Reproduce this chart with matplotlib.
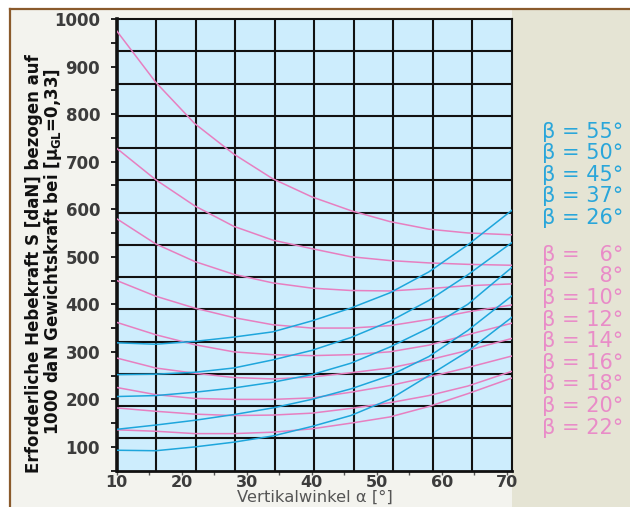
import numpy as np
import matplotlib
matplotlib.use("Agg")
import matplotlib.pyplot as plt
from matplotlib.patches import Rectangle
from matplotlib.lines import Line2D

# ---------------- data ----------------
alpha = [10, 16, 22, 28, 34, 40, 46, 52, 58, 64, 71]

# pink curves (beta = 6 ... 22)
pink_betas = [6, 8, 10, 12, 14, 16, 18, 20, 22]
pink_b6 = [975, 867, 780, 716, 664, 626, 597, 574, 558, 550, 546]
pink_b8 = [728, 662, 607, 564, 535, 517, 500, 492, 487, 484, 482]
pink_b10 = [580, 527, 490, 463, 445, 434, 429, 428, 433, 439, 443]
pink_b12 = [450, 417, 392, 372, 357, 350, 350, 355, 368, 384, 399]
pink_b14 = [362, 336, 315, 300, 294, 292, 294, 300, 314, 336, 361]
pink_b16 = [287, 266, 255, 246, 243, 247, 256, 266, 283, 303, 329]
pink_b18 = [225, 210, 202, 200, 200, 203, 215, 229, 247, 267, 292]
pink_b20 = [182, 175, 169, 166, 167, 171, 181, 193, 208, 228, 260]
pink_b22 = [136, 133, 128, 128, 131, 138, 150, 163, 185, 212, 246]

# blue curves (beta = 55 ... 26)
blue_betas = [55, 50, 45, 37, 26]
blue_b55 = [319, 316, 322, 331, 342, 365, 392, 424, 468, 525, 600]
blue_b50 = [252, 253, 257, 266, 283, 303, 330, 364, 408, 462, 532]
blue_b45 = [206, 208, 215, 224, 236, 252, 276, 310, 350, 400, 480]
blue_b37 = [137, 146, 156, 168, 182, 200, 222, 250, 290, 345, 420]
blue_b26 = [93, 92, 100, 110, 123, 143, 166, 200, 250, 301, 375]

pink_series = [pink_b6, pink_b8, pink_b10, pink_b12, pink_b14,
               pink_b16, pink_b18, pink_b20, pink_b22]
blue_series = [blue_b55, blue_b50, blue_b45, blue_b37, blue_b26]

x_ticks = [10, 20, 30, 40, 50, 60, 70]
y_ticks = [100, 200, 300, 400, 500, 600, 700, 800, 900, 1000]

ylabel1 = "Erforderliche Hebekraft S [daN] bezogen auf"
ylabel2 = r"1000 daN Gewichtskraft bei [$\mu_{\mathrm{GL}}$=0,33]"
xlabel = "Vertikalwinkel α [°]"

# ---------------- style ----------------
W, H = 630, 507
PINK = "#e77fc0"
BLUE = "#1ea6dc"
PINK_T = "#e98cc8"
BLUE_T = "#2aa6da"

plt.rcParams["mathtext.fontset"] = "custom"
plt.rcParams["mathtext.rm"] = "DejaVu Sans:bold"
plt.rcParams["mathtext.it"] = "DejaVu Sans:bold"
plt.rcParams["mathtext.bf"] = "DejaVu Sans:bold"

fig = plt.figure(figsize=(W / 100, H / 100), dpi=100, facecolor="white")

def fx(px):
    return px / W

def fy(py):
    return 1 - py / H

# background panels
fig.patches.append(Rectangle((fx(10), 0), fx(620), fy(9), transform=fig.transFigure,
                             facecolor="#f3f3ee", edgecolor="none", zorder=-5))
fig.patches.append(Rectangle((fx(512), 0), fx(118), fy(9), transform=fig.transFigure,
                             facecolor="#e5e4d4", edgecolor="none", zorder=-4))
fig.lines.append(Line2D([fx(10), fx(10)], [0, fy(9)], transform=fig.transFigure,
                        color="#8a5a2c", lw=1.6, zorder=-3))
fig.lines.append(Line2D([fx(10), 1], [fy(9), fy(9)], transform=fig.transFigure,
                        color="#8a5a2c", lw=1.6, zorder=-3))

left, right, top, bottom = 116.7, 512, 19, 470.7
ax = fig.add_axes([fx(left), fy(bottom), (right - left) / W, (bottom - top) / H])
ax.set_zorder(2)
ax.set_facecolor("#cdedfd")
ax.set_xlim(10, 70.8)
ax.set_ylim(50, 1000)

for v in np.linspace(50, 1000, 15)[1:-1]:
    ax.axhline(v, color="#111111", lw=1.5, zorder=1)
for v in np.linspace(10, 70.8, 11)[1:-1]:
    ax.axvline(v, color="#111111", lw=1.5, zorder=1)

for ys in pink_series:
    ax.plot(alpha, ys, color=PINK, lw=1.1, zorder=3)
for ys in blue_series:
    ax.plot(alpha, ys, color=BLUE, lw=1.1, zorder=3)

for s in ax.spines.values():
    s.set_color("#111111")
    s.set_linewidth(1.5)
ax.spines["left"].set_linewidth(2.6)
ax.spines["bottom"].set_linewidth(2.0)

ax.set_yticks(y_ticks)
ax.set_yticks(np.arange(50, 1001, 50), minor=True)
ax.set_xticks(x_ticks)
ax.set_xticks(np.arange(10, 71, 5), minor=True)
ax.tick_params(axis="y", which="both", direction="out", length=4, width=1.4,
               color="#222222", pad=8)
ax.tick_params(axis="x", which="both", direction="out", length=3, width=1.0,
               color="#555555", pad=0)
for lab in ax.get_yticklabels() + ax.get_xticklabels():
    lab.set_fontsize(12)
    lab.set_fontweight("bold")
    lab.set_color("#3c3c3c")
for lab in ax.get_xticklabels():
    lab.set_fontsize(11.5)

# axis labels
fig.text(fx(34), fy(264), ylabel1, rotation=90, ha="center", va="center",
         fontsize=12, fontweight="bold", family="DejaVu Sans", color="#111111")
fig.text(fx(53), fy(252), ylabel2, rotation=90, ha="center", va="center",
         fontsize=12, fontweight="bold", family="DejaVu Sans", color="#111111")
fig.text(fx(315), fy(497.5), xlabel, ha="center", va="center", fontsize=11.8,
         color="#555555")

# beta labels on the right
labels = [(b, BLUE_T) for b in blue_betas] + [(b, PINK_T) for b in pink_betas]
y0 = 131.7
for i, (b, c) in enumerate(labels):
    yy = y0 + i * 21.6 + (15 if i >= len(blue_betas) else 0)
    num = f"{b}°" if b >= 10 else "\u2007" + f"{b}°"
    fig.text(fx(623), fy(yy), "β = " + num, ha="right", va="center",
             fontsize=15, color=c)

fig.savefig("out.png", dpi=100, facecolor=fig.get_facecolor())
